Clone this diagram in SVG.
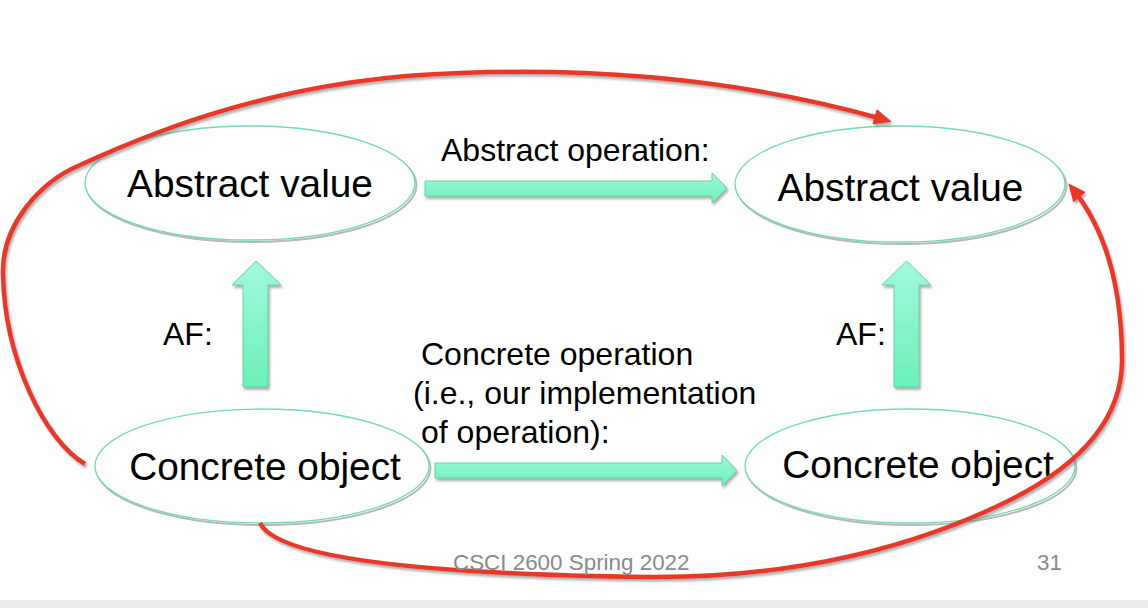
<svg xmlns="http://www.w3.org/2000/svg" width="1148" height="608" viewBox="0 0 1148 608">
  <style>
    .node-shadow { fill: none; stroke: #b8b8b8; stroke-width: 2; }
    .node-ring { fill: #ffffff; stroke: #72dcaa; stroke-width: 1.3; }
    .node-text { font-family: "Liberation Sans", Arial, sans-serif; font-size: 38.8px; fill: #000; text-anchor: middle; }
    .label { font-family: "Liberation Sans", Arial, sans-serif; font-size: 32px; fill: #000; }
    .footer { font-family: "Liberation Sans", Arial, sans-serif; font-size: 22.4px; fill: #8a8a8a; }
    .block-arrow { fill: url(#mint); stroke: #66d6a4; stroke-width: 1; filter: url(#shade); }
    .red-link { fill: none; stroke: #e8392a; stroke-width: 4.5; stroke-linecap: butt; filter: url(#shade); }
  </style>
  <defs>
    <linearGradient id="mint" x1="0" y1="0" x2="0" y2="1">
      <stop offset="0" stop-color="#a2f8de"/>
      <stop offset="1" stop-color="#6cf0b8"/>
    </linearGradient>
    <filter id="shade" x="-10%" y="-10%" width="120%" height="120%">
      <feDropShadow dx="1.5" dy="2.5" stdDeviation="0.8" flood-color="#7a7a7a" flood-opacity="0.6"/>
    </filter>
    <marker id="red-head" markerUnits="userSpaceOnUse" viewBox="0 0 18 16" refX="12" refY="8" markerWidth="18" markerHeight="16" orient="auto">
      <path d="M0,0 L18,8 L0,16 z" fill="#e8392a"/>
    </marker>
  </defs>

  <rect x="0" y="0" width="1148" height="608" fill="#ffffff"/>
  <rect x="0" y="600" width="1148" height="8" fill="#ececec"/>

  <!-- nodes -->
  <g id="abstract-value-before">
    <ellipse class="node-shadow" cx="251.5" cy="185" rx="165" ry="57"/>
    <ellipse class="node-ring" cx="250" cy="183" rx="165" ry="57"/>
    <text class="node-text" x="250" y="197">Abstract value</text>
  </g>
  <g id="abstract-value-after">
    <ellipse class="node-shadow" cx="901.5" cy="186" rx="165" ry="58"/>
    <ellipse class="node-ring" cx="900" cy="184" rx="165" ry="58"/>
    <text class="node-text" x="900.5" y="201">Abstract value</text>
  </g>
  <g id="concrete-object-before">
    <ellipse class="node-shadow" cx="263.5" cy="468" rx="167" ry="57"/>
    <ellipse class="node-ring" cx="262" cy="466" rx="167" ry="57"/>
    <text class="node-text" x="265" y="480">Concrete object</text>
  </g>
  <g id="concrete-object-after">
    <ellipse class="node-shadow" cx="911.5" cy="468" rx="165" ry="57"/>
    <ellipse class="node-ring" cx="910" cy="466" rx="165" ry="57"/>
    <text class="node-text" x="918" y="478">Concrete object</text>
  </g>

  <!-- connectors -->
  <g id="connectors">
    <!-- abstract operation -->
    <path class="block-arrow" d="M425,181 L712,181 L712,173 L727,188 L712,203 L712,196 L425,196 z"/>
    <!-- concrete operation -->
    <path class="block-arrow" d="M435,463 L722,463 L722,455 L737,470.5 L722,486 L722,478 L435,478 z"/>
    <!-- abstraction function, left -->
    <path class="block-arrow" d="M243,387 L243,285 L232,285 L256,261 L281,285 L268,285 L268,387 z"/>
    <!-- abstraction function, right -->
    <path class="block-arrow" d="M894,387 L894,285 L882,285 L906.5,261 L931,285 L919,285 L919,387 z"/>

    <!-- red paths around the square -->
    <path class="red-link" marker-end="url(#red-head)" d="M85,464 C45,440 5,360 3,275 C1,225 40,182 80,165 C150,133 280,78 460,73 C620,67 760,84 886,120"/>
    <path class="red-link" marker-end="url(#red-head)" d="M260,523 C280,565 480,575 650,577 C800,578 920,545 1010,500 C1080,465 1122,420 1122,360 C1122,290 1108,232 1072,188"/>

    <text class="label" x="441" y="161">Abstract operation:</text>
    <text class="label" x="163" y="345">AF:</text>
    <text class="label" x="836" y="345">AF:</text>
    <text class="label" x="421" y="365">Concrete operation</text>
    <text class="label" x="413" y="404">(i.e., our implementation</text>
    <text class="label" x="421" y="443">of operation):</text>
  </g>

  <text class="footer" x="453" y="570">CSCI 2600 Spring 2022</text>
  <text class="footer" x="1037" y="570">31</text>
</svg>
